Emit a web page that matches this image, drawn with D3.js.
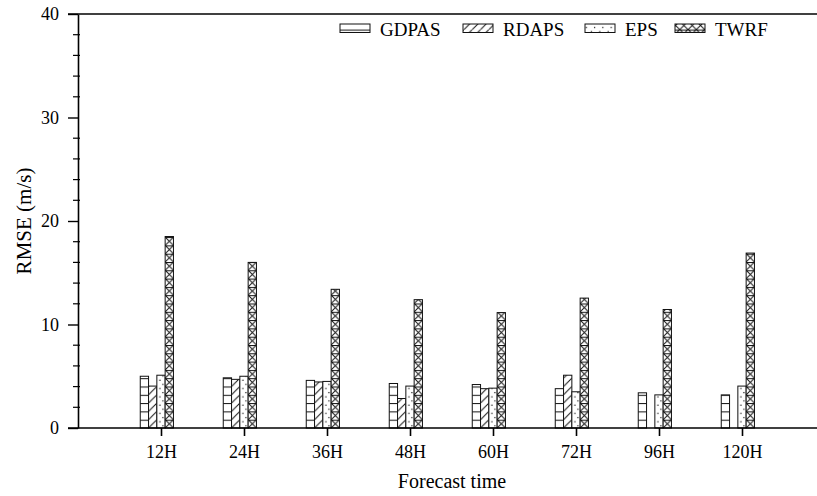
<!DOCTYPE html>
<html>
<head>
<meta charset="utf-8">
<script src="https://cdn.jsdelivr.net/npm/d3@7"></script>
<style>
  html, body { margin: 0; padding: 0; background: #fff; }
  svg { display: block; font-family: "Liberation Serif", "Times New Roman", serif; }
</style>
</head>
<body>
<svg id="chart" width="817" height="496"></svg>
<script>
const categories = ["12H", "24H", "36H", "48H", "60H", "72H", "96H", "120H"];
const seriesNames = ["GDPAS", "RDAPS", "EPS", "TWRF"];
const gdpas = [5.0, 4.85, 4.6, 4.3, 4.2, 3.8, 3.4, 3.2];
const rdaps = [4.05, 4.7, 4.45, 2.85, 3.8, 5.1, null, null];
const eps   = [5.1, 5.0, 4.5, 4.05, 3.85, 3.5, 3.2, 4.05];
const twrf  = [18.5, 16.0, 13.4, 12.4, 11.15, 12.55, 11.45, 16.9];
const yTicks = [0, 10, 20, 30, 40];
const yMinorTicks = [2, 4, 6, 8, 12, 14, 16, 18, 22, 24, 26, 28, 32, 34, 36, 38];

const seriesValues = [gdpas, rdaps, eps, twrf];

(function () {
const svg = d3.select("#chart");
const mLeft = 78, mTop = 14, mBottom = 428, mRight = 817;

const x = d3.scalePoint().domain(categories).range([161, 742]);
const step = x.step();
const bw = step / 10;
const y = d3.scaleLinear().domain([0, 40]).range([mBottom, mTop]);

// patterns
const defs = svg.append("defs");
const ink = "#111";
function pat(id, build) {
  const p = defs.append("pattern").attr("id", id)
    .attr("patternUnits", "userSpaceOnUse")
    .attr("width", bw).attr("height", bw)
    .attr("x", x(categories[0]) - 2.5 * bw).attr("y", mBottom);
  p.append("rect").attr("width", bw).attr("height", bw).attr("fill", "#fff");
  build(p);
}
pat("p0", p => {
  p.append("line").attr("x1", 0).attr("x2", bw).attr("y1", 0.5).attr("y2", 0.5).attr("stroke", ink).attr("stroke-width", 1);
});
pat("p1", p => {
  p.append("line").attr("x1", 0).attr("y1", bw).attr("x2", bw).attr("y2", 0).attr("stroke", ink).attr("stroke-width", 1);
});
pat("p2", p => {
  p.append("rect").attr("x", 2.5).attr("y", 1.5).attr("width", 1.2).attr("height", 1.2).attr("fill", ink);
  p.append("rect").attr("x", 5.5).attr("y", 5.5).attr("width", 1.2).attr("height", 1.2).attr("fill", ink);
});
pat("p3", p => {
  p.append("line").attr("x1", 0).attr("x2", bw).attr("y1", 0.5).attr("y2", 0.5).attr("stroke", ink).attr("stroke-width", 1);
  p.append("line").attr("x1", 0).attr("y1", 0).attr("x2", bw).attr("y2", bw).attr("stroke", ink).attr("stroke-width", 1);
  p.append("line").attr("x1", 0).attr("y1", bw).attr("x2", bw).attr("y2", 0).attr("stroke", ink).attr("stroke-width", 1);
});

// bars
seriesValues.forEach((vals, si) => {
  svg.append("g").selectAll("rect")
    .data(vals.map((v, i) => ({ c: categories[i], v })).filter(d => d.v != null && d.v > 0))
    .join("rect")
    .attr("x", d => x(d.c) - 2.5 * bw + si * bw)
    .attr("y", d => y(d.v))
    .attr("width", bw)
    .attr("height", d => y(0) - y(d.v))
    .attr("fill", `url(#p${si})`)
    .attr("stroke", ink)
    .attr("stroke-width", 1);
});

// frame lines
svg.append("line").attr("x1", 68).attr("x2", mRight).attr("y1", mTop).attr("y2", mTop).attr("stroke", "#000").attr("stroke-width", 1.6);
svg.append("line").attr("x1", 68).attr("x2", mRight).attr("y1", mBottom).attr("y2", mBottom).attr("stroke", "#000").attr("stroke-width", 1.6);

// y axis
const yAxis = svg.append("g").attr("transform", `translate(${mLeft},0)`)
  .call(d3.axisLeft(y).tickValues(yTicks).tickSize(10).tickPadding(9).tickSizeOuter(0));
yAxis.select(".domain").attr("stroke-width", 1.6);
yAxis.selectAll(".tick line").attr("stroke-width", 1.4);
yAxis.selectAll(".tick text").attr("font-size", 18).attr("font-family", "Liberation Serif").attr("fill", "#000");
svg.append("g").selectAll("line").data(yMinorTicks).join("line")
  .attr("x1", mLeft - 5).attr("x2", mLeft + 2)
  .attr("y1", d => y(d)).attr("y2", d => y(d))
  .attr("stroke", "#000").attr("stroke-width", 1.2);

// x axis
const xAxis = svg.append("g").attr("transform", `translate(0,${mBottom})`)
  .call(d3.axisBottom(x).tickSize(8).tickPadding(9).tickSizeOuter(0));
xAxis.select(".domain").remove();
xAxis.selectAll(".tick line").attr("stroke-width", 1.6);
xAxis.selectAll(".tick text").attr("font-size", 18).attr("font-family", "Liberation Serif").attr("fill", "#000");

// axis titles
svg.append("text").attr("x", 452).attr("y", 488).attr("text-anchor", "middle")
  .attr("font-size", 20).text("Forecast time");
svg.append("text").attr("transform", "translate(31,221) rotate(-90)").attr("text-anchor", "middle")
  .attr("font-size", 21).text("RMSE (m/s)");

// legend
const legendX = [340, 463, 585, 675];
const lg = svg.append("g");
seriesNames.forEach((name, i) => {
  lg.append("rect").attr("x", legendX[i]).attr("y", 24).attr("width", 30).attr("height", 8.5)
    .attr("fill", `url(#p${i})`).attr("stroke", ink).attr("stroke-width", 1);
  lg.append("text").attr("x", legendX[i] + 40).attr("y", 35.5).attr("font-size", 19).text(name);
});
})();
</script>
</body>
</html>
